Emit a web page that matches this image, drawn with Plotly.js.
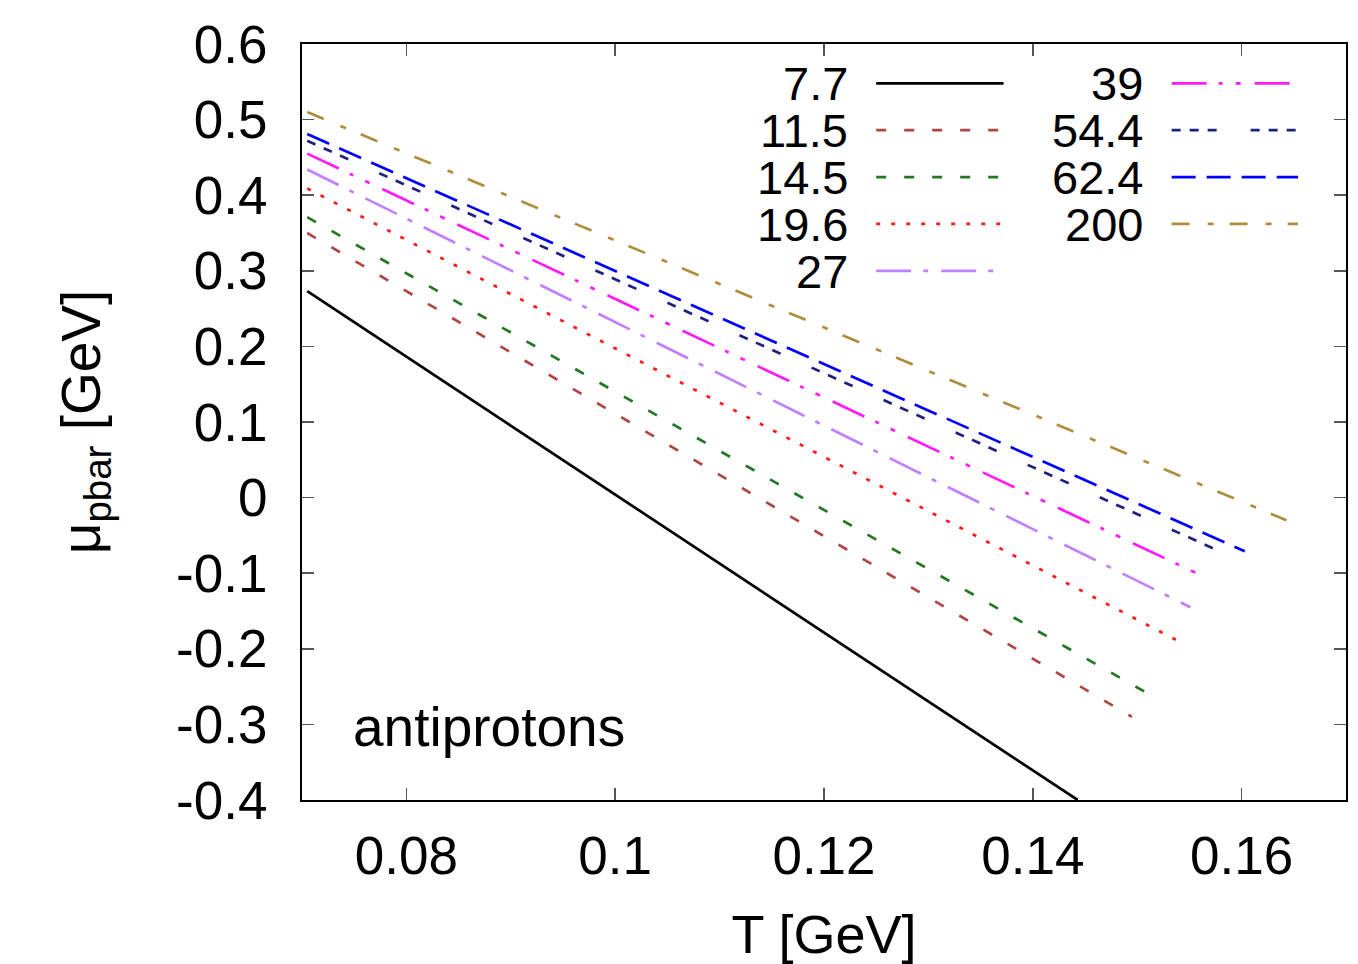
<!DOCTYPE html>
<html>
<head>
<meta charset="utf-8">
<script src="https://cdn.plot.ly/plotly-3.0.1.min.js"></script>
<style>
  html, body { margin: 0; padding: 0; background: #ffffff; }
  #chart { width: 1358px; height: 964px; }
</style>
</head>
<body>
<div id="chart"></div>
<script>
// ---- data ----
const energies = ["7.7", "11.5", "14.5", "19.6", "27", "39", "54.4", "62.4", "200"];
const tStart   = [0.0705, 0.0705, 0.0705, 0.0705, 0.0705, 0.0705, 0.0705, 0.0705, 0.0705];
const tEnd     = [0.1443, 0.1495, 0.1519, 0.1537, 0.1551, 0.1563, 0.1600, 0.1603, 0.1643];
const muStart  = [0.273, 0.350, 0.371, 0.409, 0.434, 0.455, 0.472, 0.481, 0.510];
const muEnd    = [-0.400, -0.290, -0.266, -0.188, -0.145, -0.104, -0.084, -0.071, -0.030];

const colors = ["#000000", "#b04545", "#207820", "#ff1a1a", "#c080ff", "#ff19ff", "#202080", "#0000ff", "#b08d3c"];
const dashes = ["solid", "10px,18px", "10px,18px", "4px,11px", "35px,12px,5px,13px",
                "35px,12px,4px,13px,5px,14px", "9px,9px,9px,9px,9px,34px", "24px,11px", "18px,18px,6px,16px"];

const xTickVals = [0.08, 0.10, 0.12, 0.14, 0.16];
const xTickText = ["0.08", "0.1", "0.12", "0.14", "0.16"];
const yTickVals = [-0.4, -0.3, -0.2, -0.1, 0, 0.1, 0.2, 0.3, 0.4, 0.5, 0.6];
const yTickText = ["-0.4", "-0.3", "-0.2", "-0.1", "0", "0.1", "0.2", "0.3", "0.4", "0.5", "0.6"];

// legend placement (paper coordinates): column, row
const legCol = [0, 0, 0, 0, 0, 1, 1, 1, 1];
const legRow = [0, 1, 2, 3, 4, 0, 1, 2, 3];

const FONT = "Liberation Sans, Arial, Helvetica, sans-serif";

const traces = energies.map((e, i) => ({
  type: "scatter",
  mode: "lines",
  name: e,
  x: [tStart[i], tEnd[i]],
  y: [muStart[i], muEnd[i]],
  line: { color: colors[i], width: 2.7, dash: dashes[i] },
  showlegend: false,
  hoverinfo: "x+y+name"
}));

// custom legend: number text right-aligned, line sample to its right
const colTextX = [0.524, 0.8066];
const colLineX0 = [0.550, 0.833];
const colLineX1 = [0.672, 0.954];
const rowY = [0.948, 0.886, 0.824, 0.762, 0.700];

const shapes = energies.map((e, i) => ({
  type: "line", xref: "paper", yref: "paper",
  x0: colLineX0[legCol[i]], x1: colLineX1[legCol[i]],
  y0: rowY[legRow[i]], y1: rowY[legRow[i]],
  line: { color: colors[i], width: 2.7, dash: dashes[i] }
}));

const annotations = energies.map((e, i) => ({
  xref: "paper", yref: "paper",
  x: colTextX[legCol[i]], y: rowY[legRow[i]],
  xanchor: "right", yanchor: "middle",
  height: 44, borderpad: 0,
  text: e, showarrow: false,
  font: { family: FONT, size: 47, color: "#000" }
}));
annotations.push({
  xref: "paper", yref: "paper", x: 0.047, y: 0.097,
  xanchor: "left", yanchor: "middle",
  text: "antiprotons", showarrow: false,
  font: { family: FONT, size: 55, color: "#000" }
});

const layout = {
  width: 1358, height: 964,
  paper_bgcolor: "#ffffff", plot_bgcolor: "#ffffff",
  margin: { l: 302, r: 12, t: 44, b: 164 },
  font: { family: FONT, color: "#000" },
  xaxis: {
    range: [0.07, 0.17],
    tickvals: xTickVals, ticktext: xTickText,
    ticks: "inside", ticklen: 12, tickwidth: 1.5, tickcolor: "#555",
    showline: true, linecolor: "#000", linewidth: 2, mirror: "ticks",
    showgrid: false, zeroline: false,
    tickfont: { family: FONT, size: 53, color: "#000" },
    ticklabelstandoff: 8,
    title: { text: "T [GeV]", font: { family: FONT, size: 54, color: "#000" }, standoff: 34 },
    automargin: false
  },
  yaxis: {
    range: [-0.4, 0.6],
    tickvals: yTickVals, ticktext: yTickText,
    ticks: "inside", ticklen: 12, tickwidth: 1.5, tickcolor: "#555",
    showline: true, linecolor: "#000", linewidth: 2, mirror: "ticks",
    showgrid: false, zeroline: false,
    tickfont: { family: FONT, size: 53, color: "#000" },
    ticklabelstandoff: 22,
    title: { text: "μ<sub>pbar</sub> [GeV]", font: { family: FONT, size: 55, color: "#000" }, standoff: 58 },
    automargin: false
  },
  shapes: shapes,
  annotations: annotations,
  showlegend: false
};

Plotly.newPlot("chart", traces, layout, { displayModeBar: false, staticPlot: true });
</script>
</body>
</html>
